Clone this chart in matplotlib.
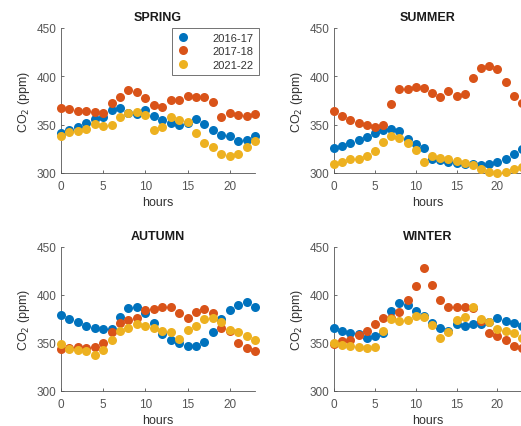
import numpy as np
import matplotlib
matplotlib.use("Agg")
import matplotlib.pyplot as plt

hours = np.arange(24)
years = ["2016-17", "2017-18", "2021-22"]
colors = ["#0072BD", "#D95319", "#EDB120"]
seasons = ["SPRING", "SUMMER", "AUTUMN", "WINTER"]

# Mean hourly CO2 (ppm) per season and campaign
spring_1617 = [341, 345, 348, 352, 356, 358, 365, 367, 362, 361, 365, 359,
               355, 352, 350, 352, 356, 351, 345, 339, 338, 333, 334, 338]
spring_1718 = [367, 366, 364, 364, 363, 362, 372, 379, 386, 384, 378, 370,
               368, 376, 376, 380, 379, 379, 373, 358, 362, 360, 359, 361]
spring_2122 = [338, 342, 343, 346, 351, 349, 350, 358, 362, 363, 360, 345,
               348, 358, 355, 353, 341, 331, 327, 320, 318, 320, 327, 333]

summer_1617 = [326, 328, 331, 334, 337, 341, 344, 346, 343, 335, 330, 326,
               315, 313, 311, 310, 309, 309, 308, 309, 311, 315, 320, 325]
summer_1718 = [364, 359, 355, 352, 350, 348, 350, 371, 387, 387, 389, 388,
               383, 379, 385, 380, 382, 398, 409, 411, 408, 394, 380, 372]
summer_2122 = [309, 311, 314, 315, 318, 323, 332, 338, 336, 331, 324, 311,
               318, 316, 315, 312, 310, 308, 304, 301, 300, 301, 304, 306]

autumn_1617 = [379, 375, 372, 368, 366, 365, 365, 377, 386, 388, 381, 371,
               359, 353, 350, 347, 347, 351, 361, 375, 384, 390, 393, 387]
autumn_1718 = [344, 345, 346, 345, 346, 350, 361, 371, 374, 376, 384, 385,
               387, 387, 381, 376, 382, 385, 381, 366, 362, 350, 345, 342]
autumn_2122 = [349, 344, 343, 342, 337, 343, 353, 363, 366, 370, 368, 366,
               363, 361, 354, 364, 368, 375, 376, 372, 364, 361, 357, 353]

winter_1617 = [366, 363, 360, 359, 355, 357, 360, 383, 392, 390, 383, 378,
               371, 366, 362, 370, 368, 370, 370, 372, 376, 373, 371, 368]
winter_1718 = [349, 352, 353, 358, 363, 370, 376, 376, 382, 395, 409, 428,
               410, 395, 387, 387, 387, 386, 373, 360, 357, 353, 347, 345]
winter_2122 = [350, 348, 347, 346, 345, 346, 363, 375, 373, 374, 378, 377,
               369, 355, 361, 374, 377, 387, 375, 372, 365, 363, 360, 355]

data = {
    "SPRING": [spring_1617, spring_1718, spring_2122],
    "SUMMER": [summer_1617, summer_1718, summer_2122],
    "AUTUMN": [autumn_1617, autumn_1718, autumn_2122],
    "WINTER": [winter_1617, winter_1718, winter_2122],
}

W, H = 521, 427
fig = plt.figure(figsize=(W / 100, H / 100), dpi=100)
plt.rcParams["font.family"] = ["Liberation Sans", "DejaVu Sans"]

left_w = 194 / W
right_w = 188 / W
positions = {
    "SPRING": [61 / W, 1 - 174 / H, left_w, 145 / H],
    "SUMMER": [334 / W, 1 - 174 / H, right_w, 145 / H],
    "AUTUMN": [61 / W, 1 - 392 / H, left_w, 144 / H],
    "WINTER": [334 / W, 1 - 392 / H, right_w, 144 / H],
}

axis_color = "#555555"
text_color = "#333333"
for season in seasons:
    ax = fig.add_axes(positions[season])
    for series, color, label in zip(data[season], colors, years):
        ax.plot(hours, series, "o", color=color, ms=6.5, mew=0,
                label=label, clip_on=False, zorder=3)
    ax.set_xlim(0, 23)
    ax.set_ylim(300, 450)
    ax.set_xticks([0, 5, 10, 15, 20])
    ax.set_yticks([300, 350, 400, 450])
    for side in ("top", "right"):
        ax.spines[side].set_visible(False)
    for side in ("left", "bottom"):
        ax.spines[side].set_color(axis_color)
        ax.spines[side].set_linewidth(0.6)
    ax.tick_params(direction="in", length=2.5, width=0.6, colors=axis_color,
                   labelsize=8.5)
    ax.tick_params(axis="x", pad=5)
    ax.tick_params(axis="y", pad=3.5)
    ax.set_title(season, fontsize=9, fontweight="bold", color="#1a1a1a", pad=6)
    ax.set_xlabel("hours", fontsize=9, color=text_color, labelpad=3)
    ax.set_ylabel("CO$_2$ (ppm)", fontsize=9, color=text_color, labelpad=3)
    if season == "SPRING":
        leg = ax.legend(loc="upper right", fontsize=8, frameon=True,
                        fancybox=False, borderaxespad=0.0, handletextpad=2.2,
                        labelspacing=0.3, borderpad=0.45, handlelength=1.0,
                        bbox_to_anchor=(1.02, 1.0))
        leg.get_frame().set_edgecolor("#333333")
        leg.get_frame().set_linewidth(0.6)
        for t in leg.get_texts():
            t.set_color(text_color)

fig.savefig("out.png", dpi=100)
